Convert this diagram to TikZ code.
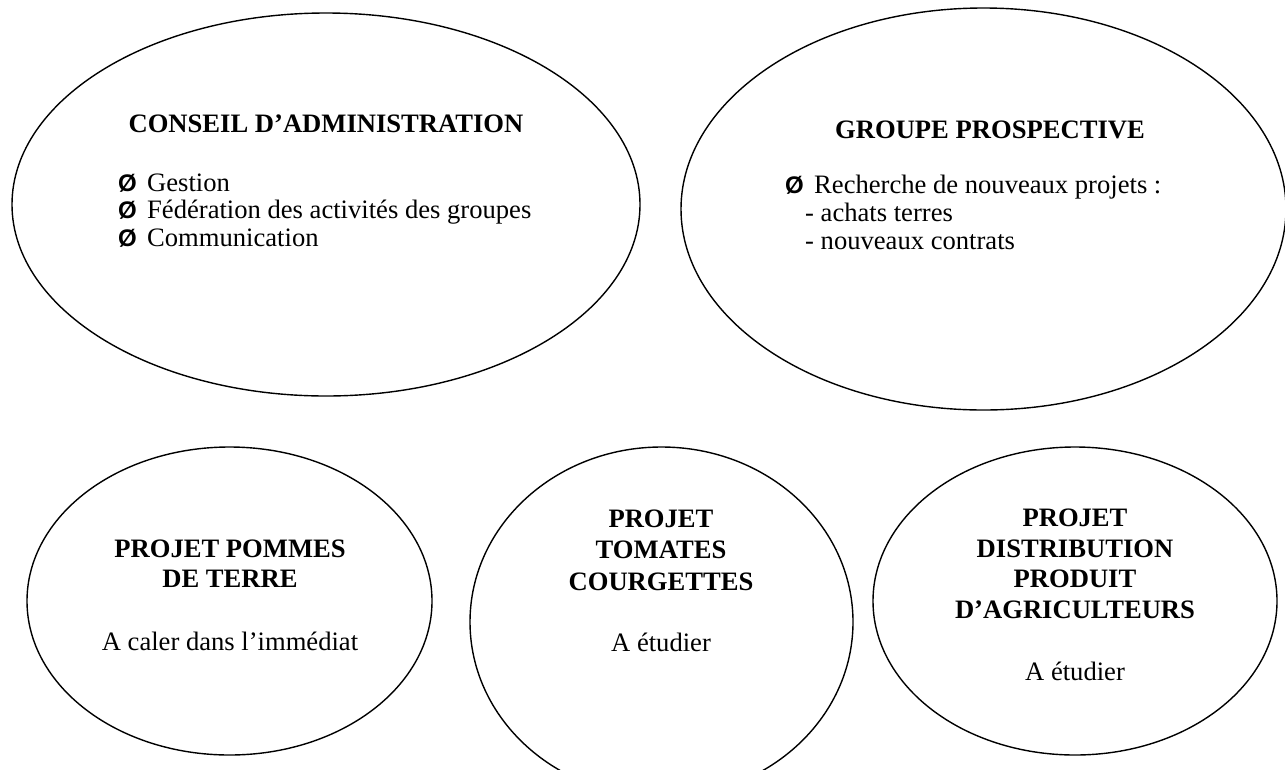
\documentclass[tikz,border=0pt]{standalone}
\usepackage{fontspec}
\setmainfont{Liberation Serif}
\newfontfamily\arialf{Liberation Sans}
\begin{document}
\begin{tikzpicture}[x=1pt,y=-1pt,
  oval/.style={line width=1.4pt},
  txt/.style={inner sep=0pt, anchor=base, font=\fontsize{26.6}{30.6}\selectfont},
  ttl/.style={inner sep=0pt, anchor=base, font=\fontsize{26.6}{30.6}\selectfont\bfseries},
  lft/.style={inner sep=0pt, anchor=base west, font=\fontsize{26.6}{30.6}\selectfont},
  bul/.style={inner sep=0pt, anchor=base west, font=\arialf\bfseries\fontsize{24}{28}\selectfont}]
\useasboundingbox (0,0) rectangle (1285,769);
\fill[white] (0,0) rectangle (1285,769);
\clip (0,0) rectangle (1285,769);
% ellipse centres
\coordinate (c1) at (326,204.5);
\coordinate (c2) at (983.5,209);
\coordinate (c3) at (229.5,601);
\coordinate (c4) at (661.5,622);
\coordinate (c5) at (1075,601);
\draw[oval] (c1) ellipse [x radius=314pt, y radius=191.5pt];
\draw[oval] (c2) ellipse [x radius=302.5pt, y radius=201pt];
\draw[oval] (c3) ellipse [x radius=202.5pt, y radius=154pt];
\draw[oval] (c4) ellipse [x radius=191.5pt, y radius=175pt];
\draw[oval] (c5) ellipse [x radius=202pt, y radius=154pt];
% conseil
\node[ttl] (t1) at (326,132) {CONSEIL D’ADMINISTRATION};
\node[bul] (b11) at (118,191) {Ø};
\node[lft] (l11) at (147,191) {Gestion};
\node[bul] (b12) at (118,218.5) {Ø};
\node[lft] (l12) at (147,218.5) {Fédération des activités des groupes};
\node[bul] (b13) at (118,246) {Ø};
\node[lft] (l13) at (147,246) {Communication};
% groupe prospective
\node[ttl] (t2) at (990,138) {GROUPE PROSPECTIVE};
\node[bul] (b21) at (785,193) {Ø};
\node[lft] (l21) at (814,193) {Recherche de nouveaux projets :};
\node[lft] (l22) at (805,221) {- achats terres};
\node[lft] (l23) at (805,249) {- nouveaux contrats};
% pommes de terre
\node[ttl] (t3a) at (230,557) {PROJET POMMES};
\node[ttl] (t3b) at (230,587.5) {DE TERRE};
\node[txt] (s3) at (230,650) {A caler dans l’immédiat};
% tomates
\node[ttl] (t4a) at (661,527) {PROJET};
\node[ttl] (t4b) at (661,558.5) {TOMATES};
\node[ttl] (t4c) at (661,590) {COURGETTES};
\node[txt] (s4) at (661,651) {A étudier};
% distribution
\node[ttl] (t5a) at (1075,526) {PROJET};
\node[ttl] (t5b) at (1075,557) {DISTRIBUTION};
\node[ttl] (t5c) at (1075,587.5) {PRODUIT};
\node[ttl] (t5d) at (1075,618.5) {D’AGRICULTEURS};
\node[txt] (s5) at (1075,680) {A étudier};
\end{tikzpicture}
\end{document}
